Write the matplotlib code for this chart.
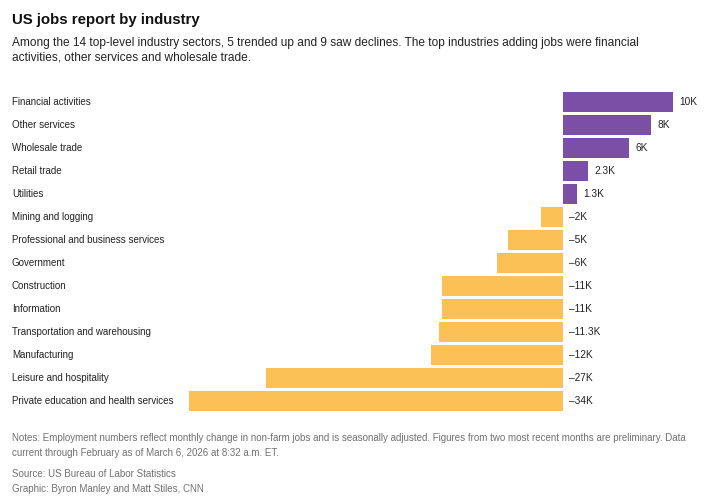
import matplotlib
matplotlib.use("Agg")
import matplotlib.pyplot as plt
import matplotlib.transforms as mtrans

categories = ["Financial activities", "Other services", "Wholesale trade", "Retail trade",
              "Utilities", "Mining and logging", "Professional and business services",
              "Government", "Construction", "Information", "Transportation and warehousing",
              "Manufacturing", "Leisure and hospitality", "Private education and health services"]
values = [10, 8, 6, 2.3, 1.3, -2, -5, -6, -11, -11, -11.3, -12, -27, -34]
value_labels = ["10K", "8K", "6K", "2.3K", "1.3K", "\u20132K", "\u20135K", "\u20136K", "\u201311K",
                "\u201311K", "\u201311.3K", "\u201312K", "\u201327K", "\u201334K"]

W, H = 727, 499
fig = plt.figure(figsize=(W / 100, H / 100), dpi=100)
plt.rcParams["font.family"] = ["Liberation Sans", "DejaVu Sans"]

def px(x, y):
    return x / W, 1 - y / H

x0, x1 = 189, 673
y0, y1 = 90.5, 412.5
ax = fig.add_axes([x0 / W, 1 - y1 / H, (x1 - x0) / W, (y1 - y0) / H])
ax.set_xlim(-34, 10)
ax.set_ylim(len(categories) - 0.5, -0.5)
ax.axis("off")

purple = "#7B4FA5"
yellow = "#FBC157"
colors = [purple if v > 0 else yellow for v in values]
ax.barh(range(len(values)), values, height=0.83, color=colors)

tr = mtrans.blended_transform_factory(fig.transFigure, ax.transData)
for i, (v, lab, cat) in enumerate(zip(values, value_labels, categories)):
    xe = max(v, 0)
    off = mtrans.offset_copy(ax.transData, fig=fig, x=6, y=0, units="dots")
    ax.text(xe, i, lab, transform=off, va="center", ha="left", fontsize=7.3, color="#222222")
    ax.text(12 / W, i, cat, transform=tr, va="center", ha="left", fontsize=7.0, color="#222222")

fig.text(*px(12, 20), "US jobs report by industry", fontsize=10.8, fontweight="bold",
         va="center", ha="left", color="#111111")
fig.text(*px(12, 43), "Among the 14 top-level industry sectors, 5 trended up and 9 saw declines. The top industries adding jobs were financial",
         fontsize=8.6, va="center", ha="left", color="#222222")
fig.text(*px(12, 58), "activities, other services and wholesale trade.",
         fontsize=8.6, va="center", ha="left", color="#222222")

grey = "#707070"
fs = 7.05
fig.text(*px(12, 438), "Notes: Employment numbers reflect monthly change in non-farm jobs and is seasonally adjusted. Figures from two most recent months are preliminary. Data",
         fontsize=fs, va="center", ha="left", color=grey)
fig.text(*px(12, 453), "current through February as of March 6, 2026 at 8:32 a.m. ET.",
         fontsize=fs, va="center", ha="left", color=grey)
fig.text(*px(12, 474), "Source: US Bureau of Labor Statistics",
         fontsize=fs, va="center", ha="left", color=grey)
fig.text(*px(12, 489), "Graphic: Byron Manley and Matt Stiles, CNN",
         fontsize=fs, va="center", ha="left", color=grey)

fig.savefig("out.png", dpi=100, facecolor="white")
